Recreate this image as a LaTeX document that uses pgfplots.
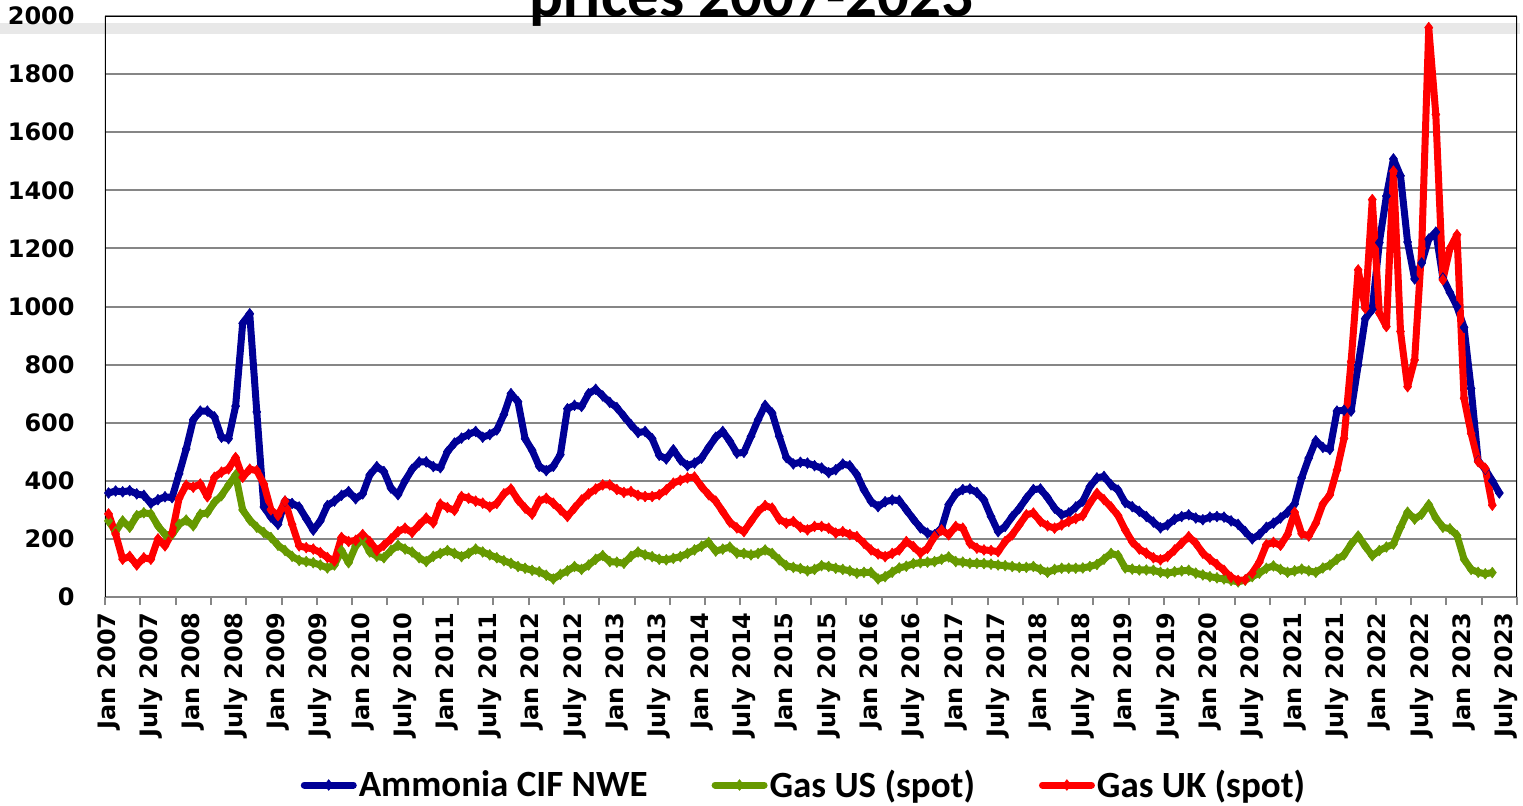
\documentclass[border=0pt]{standalone}
\usepackage{fontspec}
\setmainfont{Carlito}
\newfontfamily\dejavu{DejaVu Sans}
\usepackage{pgfplots}
\usepackage{pgfplotstable}
\pgfplotsset{compat=1.18}

\definecolor{ammblue}{RGB}{0,0,150}
\definecolor{gasgreen}{RGB}{102,153,0}
\definecolor{gasred}{RGB}{255,0,0}
\definecolor{gridgray}{RGB}{134,134,134}
\definecolor{bandgray}{RGB}{232,232,232}

% month index i: 0 = Jan 2007
\pgfplotstableread[row sep=\\]{
i v\\
0 358\\ 1 365\\ 2 362\\ 3 366\\ 4 355\\ 5 350\\ 6 322\\ 7 335\\ 8 345\\ 9 342\\
10 424\\ 11 510\\ 12 610\\ 13 640\\ 14 640\\ 15 620\\ 16 550\\ 17 545\\ 18 657\\ 19 942\\
20 975\\ 21 637\\ 22 310\\ 23 275\\ 24 250\\ 25 330\\ 26 322\\ 27 310\\ 28 270\\ 29 230\\
30 262\\ 31 315\\ 32 330\\ 33 350\\ 34 363\\ 35 338\\ 36 355\\ 37 420\\ 38 449\\ 39 432\\
40 375\\ 41 352\\ 42 400\\ 43 440\\ 44 465\\ 45 465\\ 46 449\\ 47 445\\ 48 500\\ 49 530\\
50 547\\ 51 560\\ 52 570\\ 53 550\\ 54 559\\ 55 575\\ 56 628\\ 57 700\\ 58 672\\ 59 545\\
60 505\\ 61 450\\ 62 435\\ 63 450\\ 64 490\\ 65 648\\ 66 660\\ 67 656\\ 68 700\\ 69 715\\
70 692\\ 71 670\\ 72 652\\ 73 622\\ 74 593\\ 75 566\\ 76 570\\ 77 545\\ 78 488\\ 79 475\\
80 507\\ 81 472\\ 82 452\\ 83 461\\ 84 478\\ 85 515\\ 86 550\\ 87 570\\ 88 536\\ 89 495\\
90 498\\ 91 553\\ 92 610\\ 93 660\\ 94 633\\ 95 553\\ 96 480\\ 97 458\\ 98 464\\ 99 461\\
100 452\\ 101 444\\ 102 428\\ 103 438\\ 104 458\\ 105 452\\ 106 421\\ 107 369\\ 108 329\\ 109 311\\
110 328\\ 111 334\\ 112 332\\ 113 300\\ 114 268\\ 115 238\\ 116 220\\ 117 214\\ 118 237\\ 119 318\\
120 355\\ 121 370\\ 122 372\\ 123 360\\ 124 334\\ 125 277\\ 126 225\\ 127 243\\ 128 277\\ 129 305\\
130 340\\ 131 370\\ 132 372\\ 133 342\\ 134 306\\ 135 283\\ 136 289\\ 137 310\\ 138 330\\ 139 380\\
140 410\\ 141 415\\ 142 386\\ 143 368\\ 144 325\\ 145 311\\ 146 295\\ 147 277\\ 148 258\\ 149 238\\
150 248\\ 151 268\\ 152 277\\ 153 283\\ 154 272\\ 155 266\\ 156 275\\ 157 277\\ 158 275\\ 159 262\\
160 250\\ 161 225\\ 162 200\\ 163 215\\ 164 240\\ 165 254\\ 166 272\\ 167 292\\ 168 320\\ 169 410\\
170 478\\ 171 538\\ 172 515\\ 173 508\\ 174 640\\ 175 643\\ 176 640\\ 177 798\\ 178 958\\ 179 990\\
180 1220\\ 181 1380\\ 182 1508\\ 183 1450\\ 184 1222\\ 185 1095\\ 186 1150\\ 187 1232\\ 188 1256\\ 189 1098\\
190 1048\\ 191 1000\\ 192 928\\ 193 718\\ 194 468\\ 195 440\\ 196 400\\ 197 358\\
}\ammonia

\pgfplotstableread[row sep=\\]{
i v\\
0 262\\ 1 225\\ 2 262\\ 3 240\\ 4 280\\ 5 290\\ 6 286\\ 7 245\\ 8 215\\ 9 215\\
10 250\\ 11 265\\ 12 245\\ 13 285\\ 14 290\\ 15 326\\ 16 349\\ 17 385\\ 18 420\\ 19 300\\
20 265\\ 21 240\\ 22 222\\ 23 205\\ 24 178\\ 25 160\\ 26 140\\ 27 126\\ 28 122\\ 29 118\\
30 110\\ 31 100\\ 32 110\\ 33 160\\ 34 118\\ 35 175\\ 36 200\\ 37 155\\ 38 140\\ 39 135\\
40 160\\ 41 178\\ 42 165\\ 43 155\\ 44 135\\ 45 122\\ 46 140\\ 47 150\\ 48 160\\ 49 150\\
50 139\\ 51 150\\ 52 165\\ 53 155\\ 54 145\\ 55 135\\ 56 125\\ 57 116\\ 58 105\\ 59 99\\
60 92\\ 61 87\\ 62 75\\ 63 62\\ 64 78\\ 65 90\\ 66 105\\ 67 95\\ 68 110\\ 69 130\\
70 143\\ 71 122\\ 72 120\\ 73 116\\ 74 140\\ 75 155\\ 76 145\\ 77 139\\ 78 130\\ 79 128\\
80 133\\ 81 139\\ 82 150\\ 83 162\\ 84 175\\ 85 188\\ 86 158\\ 87 165\\ 88 172\\ 89 151\\
90 150\\ 91 145\\ 92 150\\ 93 162\\ 94 150\\ 95 128\\ 96 108\\ 97 102\\ 98 98\\ 99 90\\
100 95\\ 101 108\\ 102 105\\ 103 99\\ 104 95\\ 105 90\\ 106 82\\ 107 85\\ 108 85\\ 109 62\\
110 70\\ 111 85\\ 112 100\\ 113 106\\ 114 115\\ 115 118\\ 116 120\\ 117 122\\ 118 130\\ 119 138\\
120 122\\ 121 120\\ 122 116\\ 123 116\\ 124 115\\ 125 113\\ 126 110\\ 127 108\\ 128 105\\ 129 102\\
130 102\\ 131 105\\ 132 95\\ 133 85\\ 134 95\\ 135 99\\ 136 99\\ 137 99\\ 138 100\\ 139 105\\
140 112\\ 141 130\\ 142 150\\ 143 143\\ 144 100\\ 145 96\\ 146 93\\ 147 93\\ 148 92\\ 149 85\\
150 82\\ 151 87\\ 152 90\\ 153 92\\ 154 82\\ 155 76\\ 156 70\\ 157 66\\ 158 62\\ 159 57\\
160 52\\ 161 58\\ 162 70\\ 163 82\\ 164 99\\ 165 107\\ 166 95\\ 167 85\\ 168 90\\ 169 96\\
170 90\\ 171 85\\ 172 100\\ 173 110\\ 174 130\\ 175 145\\ 176 182\\ 177 210\\ 178 175\\ 179 142\\
180 160\\ 181 172\\ 182 182\\ 183 240\\ 184 292\\ 185 268\\ 186 285\\ 187 318\\ 188 272\\ 189 240\\
190 235\\ 191 212\\ 192 130\\ 193 95\\ 194 85\\ 195 80\\ 196 84\\
}\gasus

\pgfplotstableread[row sep=\\]{
i v\\
0 286\\ 1 217\\ 2 130\\ 3 140\\ 4 110\\ 5 135\\ 6 130\\ 7 200\\ 8 176\\ 9 220\\
10 340\\ 11 385\\ 12 378\\ 13 389\\ 14 345\\ 15 412\\ 16 430\\ 17 441\\ 18 480\\ 19 412\\
20 440\\ 21 435\\ 22 389\\ 23 300\\ 24 280\\ 25 330\\ 26 250\\ 27 176\\ 28 170\\ 29 165\\
30 153\\ 31 136\\ 32 124\\ 33 205\\ 34 191\\ 35 195\\ 36 215\\ 37 191\\ 38 160\\ 39 178\\
40 200\\ 41 225\\ 42 237\\ 43 222\\ 44 248\\ 45 272\\ 46 255\\ 47 320\\ 48 308\\ 49 298\\
50 346\\ 51 340\\ 52 330\\ 53 323\\ 54 310\\ 55 322\\ 56 355\\ 57 372\\ 58 334\\ 59 306\\
60 285\\ 61 330\\ 62 340\\ 63 323\\ 64 300\\ 65 277\\ 66 306\\ 67 334\\ 68 355\\ 69 372\\
70 386\\ 71 386\\ 72 370\\ 73 360\\ 74 363\\ 75 350\\ 76 346\\ 77 346\\ 78 352\\ 79 369\\
80 392\\ 81 402\\ 82 410\\ 83 413\\ 84 380\\ 85 352\\ 86 330\\ 87 294\\ 88 258\\ 89 238\\
90 225\\ 91 260\\ 92 294\\ 93 315\\ 94 306\\ 95 268\\ 96 254\\ 97 260\\ 98 240\\ 99 231\\
100 243\\ 101 243\\ 102 237\\ 103 220\\ 104 225\\ 105 215\\ 106 208\\ 107 185\\ 108 162\\ 109 148\\
110 139\\ 111 150\\ 112 162\\ 113 191\\ 114 174\\ 115 151\\ 116 168\\ 117 208\\ 118 231\\ 119 214\\
120 243\\ 121 237\\ 122 185\\ 123 168\\ 124 162\\ 125 160\\ 126 156\\ 127 191\\ 128 214\\ 129 248\\
130 283\\ 131 289\\ 132 260\\ 133 245\\ 134 237\\ 135 248\\ 136 260\\ 137 270\\ 138 280\\ 139 323\\
140 357\\ 141 335\\ 142 310\\ 143 280\\ 144 231\\ 145 190\\ 146 165\\ 147 151\\ 148 135\\ 149 128\\
150 139\\ 151 162\\ 152 185\\ 153 208\\ 154 185\\ 155 151\\ 156 130\\ 157 112\\ 158 92\\ 159 68\\
160 57\\ 161 59\\ 162 82\\ 163 120\\ 164 180\\ 165 188\\ 166 178\\ 167 215\\ 168 292\\ 169 218\\
170 210\\ 171 254\\ 172 320\\ 173 352\\ 174 437\\ 175 546\\ 176 810\\ 177 1126\\ 178 994\\ 179 1368\\
180 977\\ 181 931\\ 182 1466\\ 183 914\\ 184 724\\ 185 816\\ 186 1200\\ 187 1960\\ 188 1661\\ 189 1092\\
190 1200\\ 191 1247\\ 192 684\\ 193 563\\ 194 466\\ 195 443\\ 196 316\\
}\gasuk

\begin{document}
\begin{tikzpicture}
% light band across the top
\fill[bandgray] (0pt,385.5pt) rectangle (760pt,391pt);

\begin{axis}[
    at={(52.5pt,104pt)}, anchor=south west,
    width=706pt, height=290.5pt, scale only axis,
    xmin=-0.5, xmax=199.5, ymin=0, ymax=2000,
    axis line style={draw=none},
    ytick={0,200,...,2000},
    ymajorgrids, grid style={gridgray, line width=1pt},
    xtick={0,6,...,198},
    xticklabels={Jan 2007, July 2007, Jan 2008, July 2008, Jan 2009, July 2009,
        Jan 2010, July 2010, Jan 2011, July 2011, Jan 2012, July 2012,
        Jan 2013, July 2013, Jan 2014, July 2014, Jan 2015, July 2015,
        Jan 2016, July 2016, Jan 2017, July 2017, Jan 2018, July 2018,
        Jan 2019, July 2019, Jan 2020, July 2020, Jan 2021, July 2021,
        Jan 2022, July 2022, Jan 2023, July 2023},
    minor xtick={-0.5,4.5,...,199.5},
    xtick pos=bottom, ytick pos=left,
    tick align=outside,
    major tick length=0pt, minor tick length=4pt,
    minor tick style={gridgray, line width=1pt},
    xticklabel style={rotate=90, anchor=east, inner sep=0pt,
        font=\dejavu\bfseries\fontsize{12}{14}\selectfont},
    xticklabel shift=7.5pt,
    yticklabel style={anchor=east, inner sep=0pt,
        font=\dejavu\bfseries\fontsize{12}{14}\selectfont},
    yticklabel shift=15pt,
    /pgf/number format/1000 sep={},
    /pgf/number format/assume math mode=true,
    legend columns=3,
    legend style={at={(0.495,-0.3236)}, anchor=center, draw=none, fill=none,
        font=\bfseries\fontsize{18.5}{20}\selectfont,
        nodes={inner sep=1pt},
        /tikz/every even column/.append style={column sep=31pt}},
    legend image code/.code={
        \draw[#1, mark=none, line cap=round] (2pt,0pt) -- (26.5pt,0pt);
        \draw[#1, only marks] plot coordinates {(14.2pt,0pt)};
    },
    every axis plot/.append style={line width=3.5pt, line join=round,
        mark=diamond*, mark size=2.7pt},
]
\addplot[ammblue, mark options={solid, line width=0.3pt, fill=ammblue}]
    table[x=i, y=v]{\ammonia};
\addplot[gasgreen, mark options={solid, line width=0.3pt, fill=gasgreen}]
    table[x=i, y=v]{\gasus};
\addplot[gasred, mark options={solid, line width=0.3pt, fill=gasred}]
    table[x=i, y=v]{\gasuk};
\legend{Ammonia CIF NWE, Gas US (spot), Gas UK (spot)}

\draw[black, line width=1.2pt] (rel axis cs:0,0) -- (rel axis cs:0,1)
    -- (rel axis cs:1,1) -- (rel axis cs:1,0);
\end{axis}

% title, cut by the top edge as in the original
\node[font=\bfseries\fontsize{31.5}{36}\selectfont, anchor=base]
    at (375.75pt,394.2pt) {prices 2007-2023};

\pgfresetboundingbox
\useasboundingbox (0pt,0pt) rectangle (761.5pt,402.5pt);
\end{tikzpicture}
\end{document}
